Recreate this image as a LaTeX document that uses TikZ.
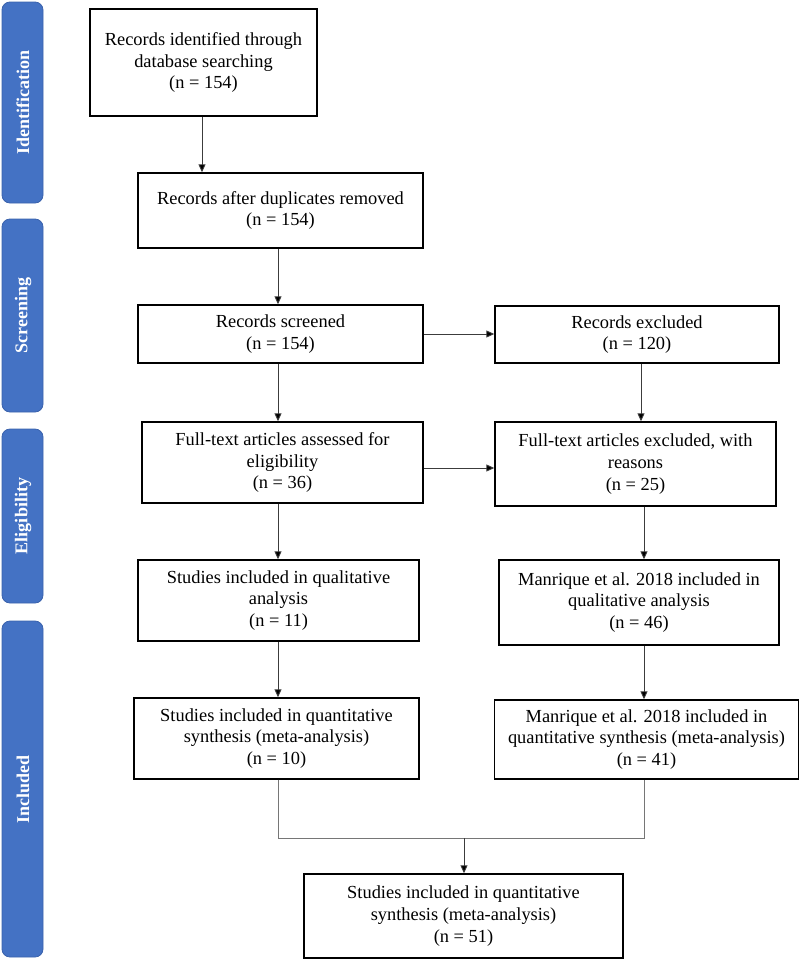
\documentclass[tikz,border=0pt]{standalone}
\usepackage{fontspec}
\setmainfont{Liberation Serif}
\usetikzlibrary{arrows.meta}
\definecolor{barblue}{HTML}{4472C4}
\definecolor{baredge}{HTML}{3A62AC}
\definecolor{linegray}{HTML}{3C3C3C}
\begin{document}
\begin{tikzpicture}[x=1pt,y=-1pt,
  flowbox/.style={draw=black,line width=1.4pt,fill=white,align=center,inner sep=0pt,
    font=\fontsize{18.4}{21.7}\selectfont,anchor=center},
  phasebar/.style={draw=baredge,fill=barblue,line width=0.8pt,rounded corners=8pt},
  phaselabel/.style={text=white,font=\fontsize{18}{20}\selectfont\bfseries,rotate=90},
  arr/.style={draw=linegray,line width=0.9pt,-{Triangle[length=8pt,width=7pt,fill=black]}},
  ln/.style={draw=linegray!70,line width=0.9pt}]
\useasboundingbox (0,0) rectangle (800,959);
% phase bars
\draw[phasebar] (2,2) rectangle (43,203);
\draw[phasebar] (2,219) rectangle (43,412);
\draw[phasebar] (2,429) rectangle (43,603);
\draw[phasebar] (2,621) rectangle (43,957);
\node[phaselabel] (pid) at (23,102.5) {Identification};
\node[phaselabel] (psc) at (23,315.5) {Screening};
\node[phaselabel] (pel) at (23,516) {Eligibility};
\node[phaselabel] (pin) at (23,789) {Included};
% boxes
\node[flowbox,minimum width=227pt,minimum height=107pt] (b1) at (203.5,62.5)
  {Records identified through\\database searching\\(n = 154)};
\node[flowbox,minimum width=285pt,minimum height=75pt] (b2) at (280.5,210.5)
  {Records after duplicates removed\\(n = 154)};
\node[flowbox,minimum width=285pt,minimum height=58pt] (b3) at (280.5,334)
  {Records screened\\(n = 154)};
\node[flowbox,minimum width=281pt,minimum height=81pt] (b4) at (282.5,462.5)
  {Full-text articles assessed for\\eligibility\\(n = 36)};
\node[flowbox,minimum width=281pt,minimum height=81pt] (b5) at (278.5,600.5)
  {Studies included in qualitative\\analysis\\(n = 11)};
\node[flowbox,minimum width=285pt,minimum height=81pt] (b6) at (276.5,738.5)
  {Studies included in quantitative\\synthesis (meta-analysis)\\(n = 10)};
\node[flowbox,minimum width=284pt,minimum height=57pt] (r1) at (637,334.5)
  {Records excluded\\(n = 120)};
\node[flowbox,minimum width=281pt,minimum height=84pt] (r2) at (635.5,464)
  {Full-text articles excluded, with\\reasons\\(n = 25)};
\node[flowbox,minimum width=280pt,minimum height=85pt] (r3) at (639,602.5)
  {Manrique et al. 2018 included in\\qualitative analysis\\(n = 46)};
\node[flowbox,minimum width=304pt,minimum height=79pt] (r4) at (646.5,739.5)
  {Manrique et al. 2018 included in\\quantitative synthesis (meta-analysis)\\(n = 41)};
\node[flowbox,minimum width=319pt,minimum height=84pt] (fin) at (463.5,916)
  {Studies included in quantitative\\synthesis (meta-analysis)\\(n = 51)};
% column coordinates
\coordinate (c1) at (202,0);
\coordinate (c2) at (278,0);
\coordinate (c3) at (641,0);
\coordinate (c4) at (644,0);
\coordinate (c5) at (464,0);
\coordinate (rowA) at (0,334);
\coordinate (rowB) at (0,468);
\coordinate (merge) at (0,838);
\coordinate (mL) at (278,838);
\coordinate (mR) at (644,838);
\coordinate (mC) at (464,838);
% arrows
\draw[arr] (b1.south -| c1) -- (b2.north -| c1);
\draw[arr] (b2.south -| c2) -- (b3.north -| c2);
\draw[arr] (b3.south -| c2) -- (b4.north -| c2);
\draw[arr] (b4.south -| c2) -- (b5.north -| c2);
\draw[arr] (b5.south -| c2) -- (b6.north -| c2);
\draw[arr] (b3.east |- rowA) -- (r1.west |- rowA);
\draw[arr] (b4.east |- rowB) -- (r2.west |- rowB);
\draw[arr] (r1.south -| c3) -- (r2.north -| c3);
\draw[arr] (r2.south -| c4) -- (r3.north -| c4);
\draw[arr] (r3.south -| c4) -- (r4.north -| c4);
\draw[ln] (b6.south -| c2) -- (mL) -- (mR) -- (r4.south -| c4);
\draw[arr] (mC) -- (fin.north -| c5);
\end{tikzpicture}
\end{document}
